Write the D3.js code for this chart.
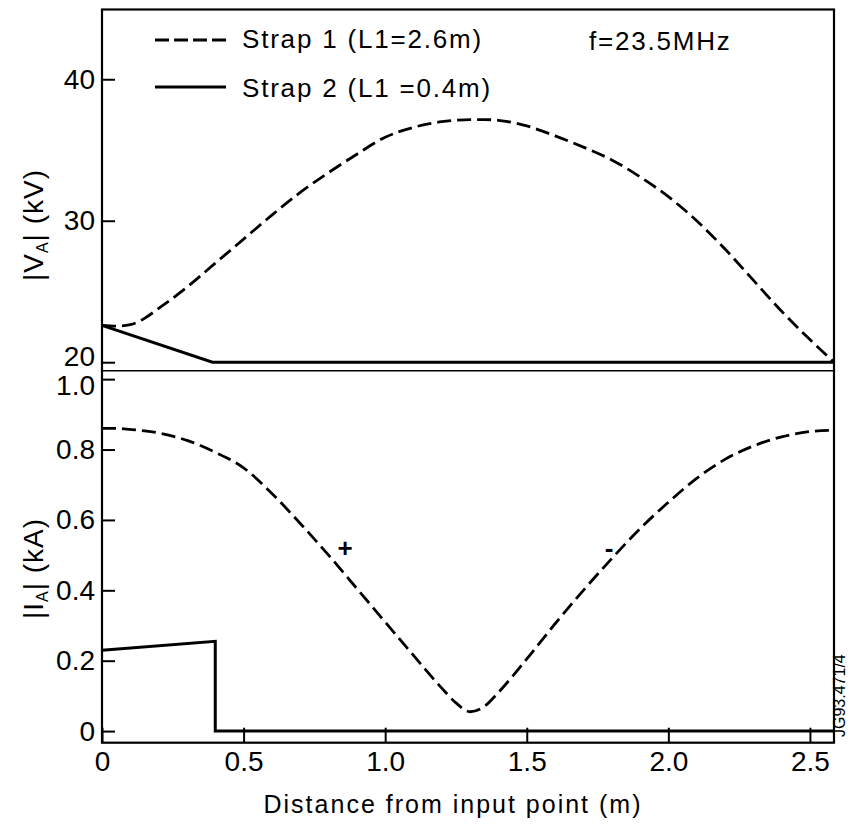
<!DOCTYPE html>
<html>
<head>
<meta charset="utf-8">
<script src="https://cdn.jsdelivr.net/npm/d3@7"></script>
<style>
  body { margin: 0; background: #fff; }
  text { font-family: "Liberation Sans", Arial, Helvetica, sans-serif; fill: #000; }
</style>
</head>
<body>
<div class="viz"></div>
<script>
// distance along strap (m)
const xs = [0, 0.05, 0.1, 0.15, 0.2, 0.3, 0.4, 0.5, 0.6, 0.7, 0.8, 0.9, 1.0, 1.1, 1.2, 1.25, 1.3, 1.35, 1.4, 1.5, 1.6, 1.7, 1.8, 1.9, 2.0, 2.1, 2.2, 2.3, 2.4, 2.5, 2.585];
// strap 1 voltage |VA| (kV)
const strap1V = [22.6, 22.55, 22.65, 23.1, 23.8, 25.3, 27.0, 28.7, 30.4, 32.0, 33.4, 34.7, 35.9, 36.6, 37.0, 37.1, 37.15, 37.15, 37.1, 36.7, 36.0, 35.2, 34.3, 33.1, 31.7, 30.0, 28.0, 25.8, 23.6, 21.6, 20.0];
// strap 1 current |IA| (kA)
const strap1I = [0.86, 0.86, 0.857, 0.853, 0.847, 0.826, 0.792, 0.748, 0.675, 0.59, 0.5, 0.405, 0.31, 0.215, 0.122, 0.08, 0.055, 0.07, 0.11, 0.205, 0.305, 0.4, 0.49, 0.575, 0.65, 0.718, 0.772, 0.81, 0.836, 0.851, 0.855];

// strap 2 (L1 = 0.4m)
const strap2Vx = [0, 0.39, 2.585];
const strap2V = [22.6, 20.0, 20.0];
const strap2Ix = [0, 0.4, 0.4, 2.585];
const strap2I = [0.23, 0.255, 0, 0];

const xTicks = [0, 0.5, 1.0, 1.5, 2.0, 2.5];
const xTickLabels = ["0", "0.5", "1.0", "1.5", "2.0", "2.5"];
const vTicks = [20, 30, 40];
const iTicks = [0, 0.2, 0.4, 0.6, 0.8, 1.0];
const iTickLabels = ["0", "0.2", "0.4", "0.6", "0.8", "1.0"];

const width = 850, height = 826;
const margin = {left: 102, right: 834, top: 9.5, mid: 370.7, bottom: 742.7};

const svg = d3.select('.viz').append('svg')
    .attr('width', width)
    .attr('height', height);

const x = d3.scaleLinear().domain([0, 2.585]).range([margin.left, margin.right]);
const yV = d3.scaleLinear().domain([19.4, 44.93]).range([margin.mid, margin.top]);
const yI = d3.scaleLinear().domain([-0.033, 1.024]).range([margin.bottom, margin.mid]);

// axes (ticks point inward)
const styleAxis = g => {
    g.select(".domain").remove();
    g.selectAll(".tick line").attr("stroke", "#000").attr("stroke-width", 2);
    g.selectAll(".tick text").attr("font-size", 28).attr("fill", "#000")
        .attr("font-family", '"Liberation Sans", Arial, sans-serif');
};

svg.append("g")
    .attr("transform", `translate(${margin.left},0)`)
    .call(d3.axisLeft(yV).tickValues(vTicks).tickSize(-13).tickPadding(7).tickFormat(d3.format("d")))
    .call(styleAxis)
    // the 20 and 1.0 labels sit very close; nudge them apart a little
    .selectAll(".tick text").filter(d => d === 20).attr("dy", "0.12em");

svg.append("g")
    .attr("transform", `translate(${margin.left},0)`)
    .call(d3.axisLeft(yI).tickValues(iTicks).tickSize(-13).tickPadding(7).tickFormat((d, i) => iTickLabels[i]))
    .call(styleAxis)
    .selectAll(".tick text").filter(d => d === 1.0).attr("dy", "0.55em");

svg.append("g")
    .attr("transform", `translate(0,${margin.bottom})`)
    .call(d3.axisBottom(x).tickValues(xTicks).tickSize(-15).tickPadding(8).tickFormat((d, i) => xTickLabels[i]))
    .call(styleAxis);

// frame + divider
svg.append("rect")
    .attr("x", margin.left).attr("y", margin.top)
    .attr("width", margin.right - margin.left).attr("height", margin.bottom - margin.top)
    .attr("fill", "none").attr("stroke", "#000").attr("stroke-width", 2.2);
svg.append("line")
    .attr("x1", margin.left).attr("x2", margin.right).attr("y1", margin.mid).attr("y2", margin.mid)
    .attr("stroke", "#000").attr("stroke-width", 1.6);

// curves
const lineV = d3.line().x((d, i) => x(xs[i])).y(d => yV(d)).curve(d3.curveMonotoneX);
const lineI = d3.line().x((d, i) => x(xs[i])).y(d => yI(d)).curve(d3.curveMonotoneX);

svg.append("path").datum(strap1V)
    .attr("d", lineV)
    .attr("fill", "none").attr("stroke", "#000").attr("stroke-width", 2.8)
    .attr("stroke-dasharray", "14,6");

svg.append("path").datum(strap1I)
    .attr("d", lineI)
    .attr("fill", "none").attr("stroke", "#000").attr("stroke-width", 2.8)
    .attr("stroke-dasharray", "14,6");

svg.append("path").datum(strap2V.map((v, i) => [strap2Vx[i], v]))
    .attr("d", d3.line().x(d => x(d[0])).y(d => yV(d[1])))
    .attr("fill", "none").attr("stroke", "#000").attr("stroke-width", 3);

svg.append("path").datum(strap2I.map((v, i) => [strap2Ix[i], v]))
    .attr("d", d3.line().x(d => x(d[0])).y(d => yI(d[1])))
    .attr("fill", "none").attr("stroke", "#000").attr("stroke-width", 3);

// legend
const legend = svg.append("g").attr("font-size", 26).attr("letter-spacing", 1.8);
legend.append("line")
    .attr("x1", 155).attr("x2", 226).attr("y1", 40).attr("y2", 40)
    .attr("stroke", "#000").attr("stroke-width", 2.8).attr("stroke-dasharray", "14,5");
legend.append("text").attr("x", 242).attr("y", 48).text("Strap 1 (L1=2.6m)");
legend.append("line")
    .attr("x1", 155).attr("x2", 226).attr("y1", 87).attr("y2", 87)
    .attr("stroke", "#000").attr("stroke-width", 3);
legend.append("text").attr("x", 242).attr("y", 97).text("Strap 2 (L1 =0.4m)");
legend.append("text").attr("x", 589).attr("y", 50).text("f=23.5MHz");

// sign markers
svg.append("text").attr("x", 345).attr("y", 557).attr("font-size", 26)
    .attr("font-weight", "bold").attr("text-anchor", "middle").text("+");
svg.append("text").attr("x", 609).attr("y", 557).attr("font-size", 26)
    .attr("font-weight", "bold").attr("text-anchor", "middle").text("-");

// axis titles
svg.append("text")
    .attr("x", 453).attr("y", 813)
    .attr("font-size", 25).attr("letter-spacing", 2)
    .attr("text-anchor", "middle")
    .text("Distance from input point (m)");

const vTitle = svg.append("text")
    .attr("transform", "translate(43,281) rotate(-90)")
    .attr("font-size", 28).attr("letter-spacing", 1);
vTitle.append("tspan").text("|V");
vTitle.append("tspan").attr("font-size", 16).attr("dy", 5).text("A");
vTitle.append("tspan").attr("dy", -5).text("| (kV)");

const iTitle = svg.append("text")
    .attr("transform", "translate(43,619) rotate(-90)")
    .attr("font-size", 28).attr("letter-spacing", 1);
iTitle.append("tspan").text("|I");
iTitle.append("tspan").attr("font-size", 16).attr("dy", 5).text("A");
iTitle.append("tspan").attr("dy", -5).text("| (kA)");

svg.append("text")
    .attr("transform", "translate(845,737) rotate(-90)")
    .attr("font-size", 16)
    .text("JG93.471/4");
</script>
</body>
</html>
